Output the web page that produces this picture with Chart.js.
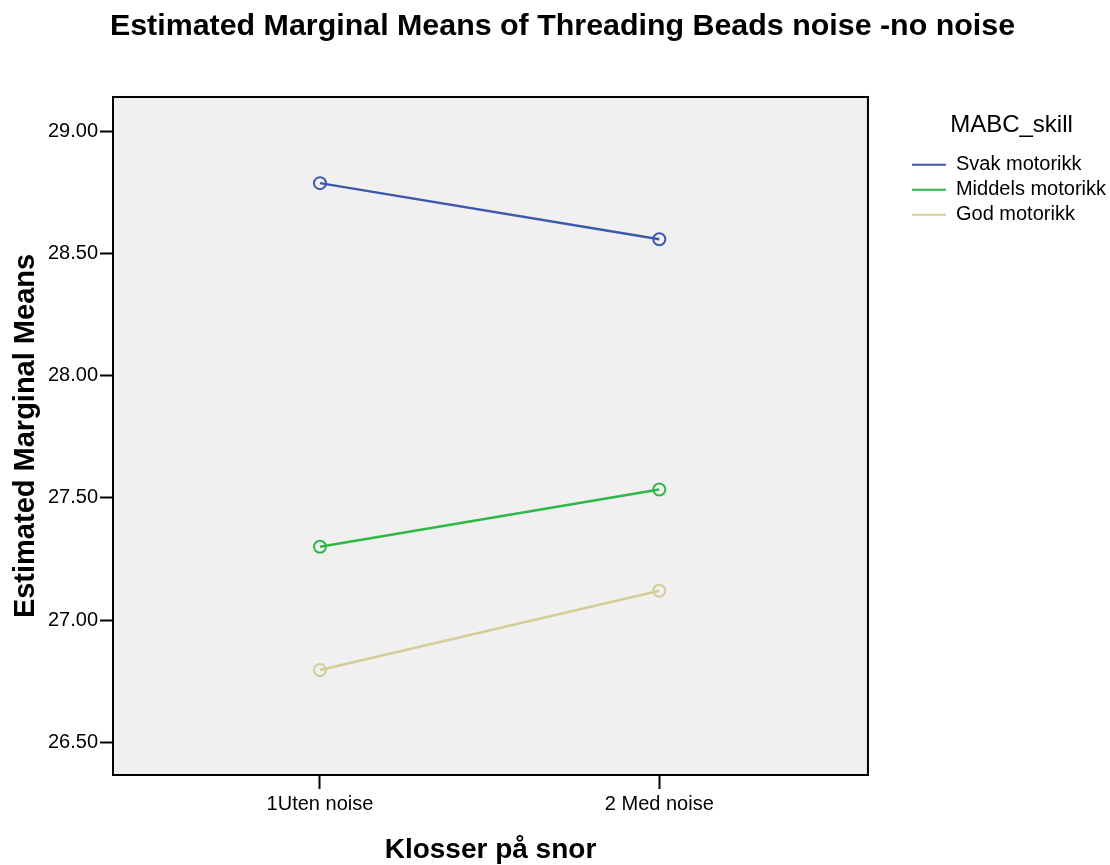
<!DOCTYPE html>
<html>
<head>
<meta charset="utf-8">
<script src="https://cdn.jsdelivr.net/npm/chart.js@4.4.1/dist/chart.umd.min.js"></script>
<style>
  body { margin: 0; background: #fff; }
</style>
</head>
<body>
<canvas id="emmChart" width="1110" height="865"></canvas>
<script>
// categories on the x axis (Klosser på snor)
const categories = ["1Uten noise", "2 Med noise"];
const groupNames = ["Svak motorikk", "Middels motorikk", "God motorikk"];
// estimated marginal means
const svakValues = [28.79, 28.56];
const middelsValues = [27.30, 27.535];
const godValues = [26.795, 27.12];
const yTicks = [26.5, 27.0, 27.5, 28.0, 28.5, 29.0];

const lineColors = ["#3e58ac", "#2eb848", "#d3ce97"];
const font = "'Liberation Sans', Arial, sans-serif";

function toPoints(vals) {
    return vals.map((v, i) => ({ x: i + 1, y: v }));
}

const seriesValues = [svakValues, middelsValues, godValues];
const datasets = seriesValues.map((vals, i) => ({
    label: groupNames[i],
    data: toPoints(vals),
    borderColor: lineColors[i],
    backgroundColor: lineColors[i],
    borderWidth: 2.5,
    pointRadius: 6,
    pointHoverRadius: 6,
    pointBorderWidth: 2,
    pointBackgroundColor: "rgba(0,0,0,0)",
    pointBorderColor: lineColors[i],
    tension: 0
}));

// grey plot background + black frame around the chart area
const plotFrame = {
    id: "plotFrame",
    beforeDraw(chart) {
        const { ctx, chartArea: a } = chart;
        ctx.save();
        ctx.fillStyle = "#f0f0f0";
        ctx.fillRect(a.left, a.top, a.right - a.left, a.bottom - a.top);
        ctx.restore();
    },
    afterDraw(chart) {
        const { ctx, chartArea: a } = chart;
        ctx.save();
        ctx.strokeStyle = "#000";
        ctx.lineWidth = 2;
        ctx.strokeRect(a.left, a.top, a.right - a.left, a.bottom - a.top);
        ctx.restore();
    }
};

const ctx = document.getElementById("emmChart");
const chart = new Chart(ctx, {
    type: "line",
    data: { datasets: datasets },
    options: {
        responsive: false,
        animation: false,
        layout: { padding: { left: 9, right: -6, top: 0, bottom: 0 } },
        scales: {
            x: {
                type: "linear",
                min: 0.39,
                max: 2.615,
                afterBuildTicks: (s) => { s.ticks = categories.map((c, i) => ({ value: i + 1 })); },
                afterFit: (s) => { s.height = 90; },
                ticks: {
                    color: "#000",
                    font: { family: font, size: 20 },
                    padding: 3,
                    maxRotation: 0,
                    callback: (v) => categories[v - 1]
                },
                grid: { drawOnChartArea: false, drawTicks: true, tickLength: 14, tickColor: "#000", tickWidth: 2 },
                border: { display: false },
                title: {
                    display: true,
                    text: "Klosser på snor",
                    color: "#000",
                    font: { family: font, size: 28, weight: "bold" },
                    padding: { top: 0, bottom: -2 }
                }
            },
            y: {
                min: 26.365,
                max: 29.143,
                afterBuildTicks: (s) => { s.ticks = yTicks.map(v => ({ value: v })); },
                afterFit: (s) => { s.width = 104; },
                ticks: {
                    color: "#000",
                    font: { family: font, size: 20 },
                    padding: 2,
                    callback: (v) => Number(v).toFixed(2)
                },
                grid: { drawOnChartArea: false, drawTicks: true, tickLength: 13, tickColor: "#000", tickWidth: 2 },
                border: { display: false },
                title: {
                    display: true,
                    text: "Estimated Marginal Means",
                    color: "#000",
                    font: { family: font, size: 29, weight: "bold" },
                    padding: { top: 0, bottom: 0 }
                }
            },
            gap: {
                type: "linear",
                position: "right",
                display: true,
                afterFit: (s) => { s.width = 39; },
                ticks: { display: false },
                grid: { display: false },
                border: { display: false }
            }
        },
        plugins: {
            title: {
                display: true,
                text: "Estimated Marginal Means of Threading Beads noise -no noise",
                color: "#000",
                font: { family: font, size: 30.4, weight: "bold" },
                padding: { top: 8, bottom: 52.5 }
            },
            legend: {
                position: "right",
                align: "start",
                fullSize: false,
                maxWidth: 320,
                title: {
                    display: true,
                    text: "MABC_skill",
                    color: "#000",
                    font: { family: font, size: 24 },
                    padding: { top: 16, bottom: 8 }
                },
                labels: {
                    color: "#000",
                    font: { family: font, size: 20 },
                    usePointStyle: true,
                    pointStyle: "line",
                    pointStyleWidth: 34,
                    padding: 5
                }
            },
            tooltip: { enabled: false }
        }
    },
    plugins: [plotFrame]
});
</script>
</body>
</html>
